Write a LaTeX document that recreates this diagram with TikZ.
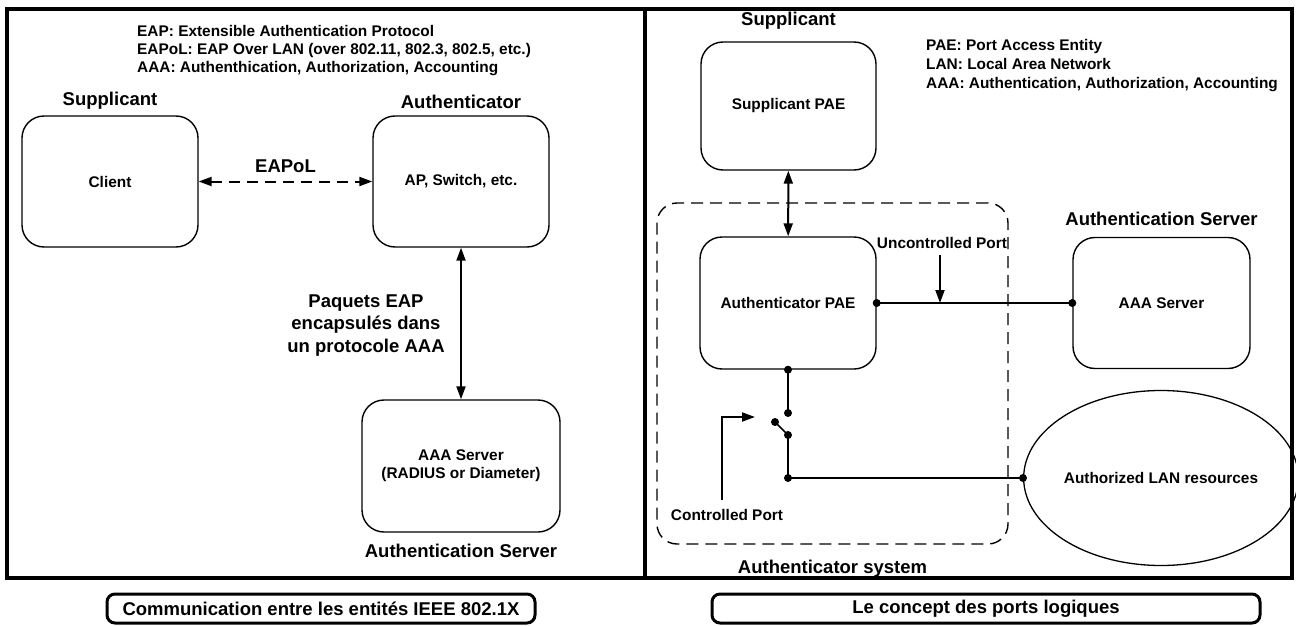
\documentclass[tikz,border=0pt]{standalone}
\usepackage{fontspec}
\setmainfont{Liberation Sans}
\usetikzlibrary{arrows.meta,positioning,shapes.geometric}

\begin{document}
\begin{tikzpicture}[x=1pt, y=-1pt,
  every node/.style = {font=\bfseries\fontsize{15.4}{18}\selectfont, inner sep=0pt},
  big/.style = {font=\bfseries\fontsize{18.5}{22.5}\selectfont},
  box/.style = {shape=rectangle, rounded corners=22pt, draw, line width=1.4pt, align=center},
  tip/.style = {line width=2pt, -{Triangle[length=13pt,width=9pt]}},
  both/.style = {line width=2pt, {Triangle[length=13pt,width=9pt]}-{Triangle[length=13pt,width=9pt]}},
  wire/.style = {line width=1.6pt},
  caption/.style = {draw, big, line width=3pt, rounded corners=8pt, minimum height=29pt}]
  \useasboundingbox (0,0) rectangle (1296,626);
  \draw[line width=4.5pt] (7,9) rectangle (1292,578);
  \draw[line width=4.5pt] (645,9) -- (645,578);

  \node[anchor=north west, align=left] (legendl) at (137,25.5)
    {EAP: Extensible Authentication Protocol\\EAPoL: EAP Over LAN (over 802.11, 802.3, 802.5, etc.)\\AAA: Authenthication, Authorization, Accounting};
  \node[box, minimum width=176pt, minimum height=131pt] (client) at (110,181.5) {Client};
  \node[big, above=6pt of client] {Supplicant};
  \node[box, minimum width=176pt, minimum height=131pt] (authr) at (461,181.5) {AP, Switch, etc.};
  \node[big, above=6pt of authr] {Authenticator};
  \node[box, minimum width=198pt, minimum height=132pt] (aaa) at (461,466) {AAA Server\\(RADIUS or Diameter)};
  \node[big, below=11pt of aaa] {Authentication Server};
  \draw[both, dash pattern=on 11pt off 7pt] (client) -- (authr)
    node[midway, big, above=8pt] {EAPoL};
  \draw[both] (authr) -- (aaa);
  \node[big, align=center] (eapdesc) at (366,325.5) {Paquets EAP\\encapsulés dans\\un protocole AAA};

  \node[box, minimum width=175pt, minimum height=128pt] (supp) at (788.5,106) {Supplicant PAE};
  \node[big, above=12pt of supp] {Supplicant};
  \node[anchor=north west, align=left, font=\bfseries\fontsize{15.4}{19}\selectfont] (legendr) at (926,39.5)
    {PAE: Port Access Entity\\LAN: Local Area Network\\AAA: Authentication, Authorization, Accounting};
  \node[draw, line width=1.4pt, dash pattern=on 12pt off 7pt, rounded corners=20pt,
    minimum width=351pt, minimum height=341pt] (system) at (832.5,373.5) {};
  \node[big, below=15pt of system] {Authenticator system};
  \node[box, minimum width=176pt, minimum height=132pt] (pae) at (788,303) {Authenticator PAE};
  \draw[both] (supp) -- (pae);
  \node[box, minimum width=177pt, minimum height=131pt] (aaasrv) at (1161.5,303) {AAA Server};
  \node[big, above=11pt of aaasrv] {Authentication Server};
  \node[draw, ellipse, line width=1.3pt, minimum width=262pt, minimum height=175pt] (lan) at (1161,478)
    {\fontsize{15.4}{18}\selectfont Authorized LAN resources};
  \node (uport) at (942,243) {Uncontrolled Port};
  \node (cport) at (727,515) {Controlled Port};

  \coordinate (swtop) at (788,413);
  \coordinate (swpivot) at (775,422);
  \coordinate (swbot) at (788,435);
  \coordinate (junction) at (788,478);
  \coordinate (cpin) at (722,500);

  \draw[wire] (pae.east) -- (aaasrv.west);
  \draw[tip] ([xshift=-2pt, yshift=-6pt]uport.south) -- ([xshift=-2pt]uport.south |- pae.east);
  \draw[wire] (pae.south) -- (swtop);
  \draw[wire] (swpivot) -- (swbot) -- (junction) -- (lan.west);
  \draw[tip] (cpin) |- ([shift={(-20,-5)}]swpivot);
  \foreach \p in {pae.east, aaasrv.west, pae.south, swtop, swpivot, swbot, junction, lan.west}
    \fill (\p) circle[radius=4];

  \node[caption, minimum width=428pt] (capl) at (321,608.5) {Communication entre les entités IEEE 802.1X};
  \node[caption, minimum width=548pt] (capr) at (986,608.5) {Le concept des ports logiques};
\end{tikzpicture}
\end{document}
